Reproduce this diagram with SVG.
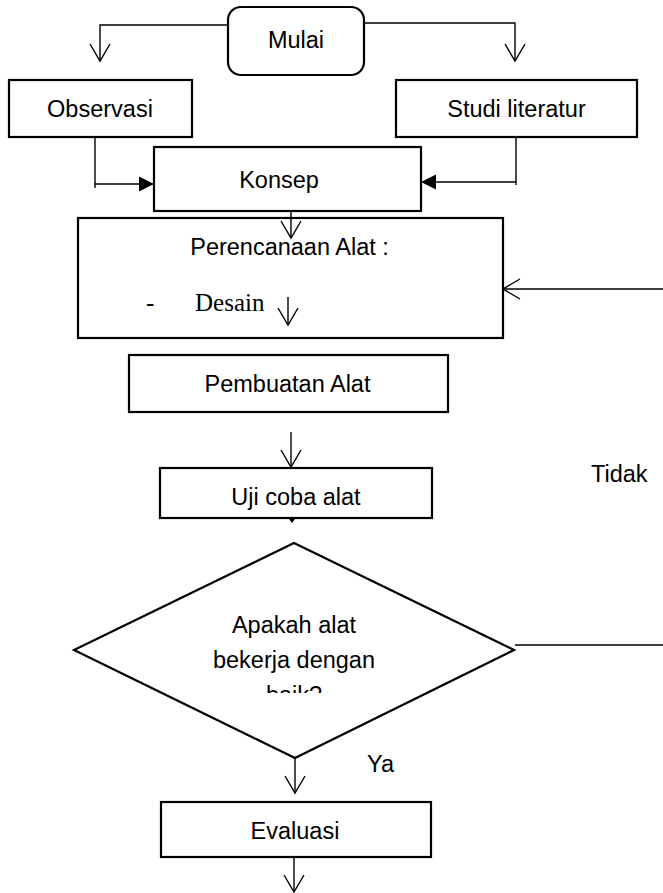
<svg xmlns="http://www.w3.org/2000/svg" width="663" height="893" viewBox="0 0 663 893">
<style>
.box{fill:#fff;stroke:#000;stroke-width:2.2}
.ln{fill:none;stroke:#000;stroke-width:1.4}
.t{font-family:"Liberation Sans",Arial,sans-serif;font-size:23.5px;fill:#000;text-anchor:middle}
.tl{font-family:"Liberation Sans",Arial,sans-serif;font-size:23.5px;fill:#000}
.tm{font-family:"Liberation Serif","Times New Roman",serif;font-size:25px;fill:#000}
</style>
<defs>
<marker id="open" markerUnits="userSpaceOnUse" markerWidth="24" markerHeight="24" viewBox="-20 -12 24 24" refX="0" refY="0" orient="auto" overflow="visible">
<path d="M-17,-10 L0,0 L-17,10" fill="none" stroke="#000" stroke-width="1.4"/>
</marker>
<marker id="fill" markerUnits="userSpaceOnUse" markerWidth="18" markerHeight="18" viewBox="-16 -9 18 18" refX="0" refY="0" orient="auto" overflow="visible">
<path d="M-15,-7.5 L0,0 L-15,7.5 Z" fill="#000"/>
</marker>
<clipPath id="dclip"><rect x="0" y="0" width="663" height="693"/></clipPath>
</defs>

<g id="mulai">
<rect class="box" x="228" y="7" width="136" height="68" rx="13"/>
<text class="t" x="296" y="48">Mulai</text>
</g>

<g id="observasi">
<rect class="box" x="9" y="80" width="183" height="57"/>
<text class="t" x="100" y="117">Observasi</text>
</g>

<g id="studi">
<rect class="box" x="396" y="80" width="241" height="57"/>
<text class="t" x="516.5" y="117">Studi literatur</text>
</g>

<g id="konsep">
<rect class="box" x="154" y="147" width="267" height="64"/>
<text class="t" x="279" y="188">Konsep</text>
</g>

<g id="perencanaan">
<rect class="box" x="78" y="218" width="425" height="120"/>
<text class="t" x="289.5" y="255">Perencanaan Alat :</text>
<text class="tm" x="146" y="311">-</text>
<text class="tm" x="195" y="311">Desain</text>
</g>

<g id="pembuatan">
<rect class="box" x="129" y="355" width="319" height="57"/>
<text class="t" x="287.5" y="392">Pembuatan Alat</text>
</g>

<g id="ujicoba">
<rect class="box" x="160" y="468" width="272" height="50"/>
<text class="t" x="296" y="505">Uji coba alat</text>
</g>

<g id="tidak">
<text class="tl" x="591" y="482">Tidak</text>
</g>

<g id="keputusan">
<polygon class="box" points="294,543 514,650 295,758 74,650"/>
<g clip-path="url(#dclip)">
<text class="t" x="294" y="633">Apakah alat</text>
<text class="t" x="294" y="668">bekerja dengan</text>
<text class="t" x="294" y="703">baik?</text>
</g>
</g>

<g id="ya">
<text class="tl" x="367" y="772">Ya</text>
</g>

<g id="evaluasi">
<rect class="box" x="161" y="802" width="270" height="55"/>
<text class="t" x="295" y="839">Evaluasi</text>
</g>

<g id="connectors">
<path class="ln" d="M228,25 H100 V61" marker-end="url(#open)"/>
<path class="ln" d="M364,23 H515 V61" marker-end="url(#open)"/>
<path class="ln" d="M95,137 V188"/>
<path class="ln" d="M95,184 H154" stroke-width="2" marker-end="url(#fill)"/>
<path class="ln" d="M516,137 V185"/>
<path class="ln" d="M516,182 H421" stroke-width="2" marker-end="url(#fill)"/>
<path class="ln" d="M291,211 V238" marker-end="url(#open)"/>
<path class="ln" d="M288,297 V325" marker-end="url(#open)"/>
<path class="ln" d="M291,432 V467" marker-end="url(#open)"/>
<path class="ln" d="M663,289 H503" marker-end="url(#open)"/>
<path class="ln" d="M515,645 H663"/>
<path d="M289,519 L295,519 L292,523 Z" fill="#000"/>
<path class="ln" d="M295,758 V793" marker-end="url(#open)"/>
<path class="ln" d="M294,857 V892" marker-end="url(#open)"/>
</g>
</svg>
